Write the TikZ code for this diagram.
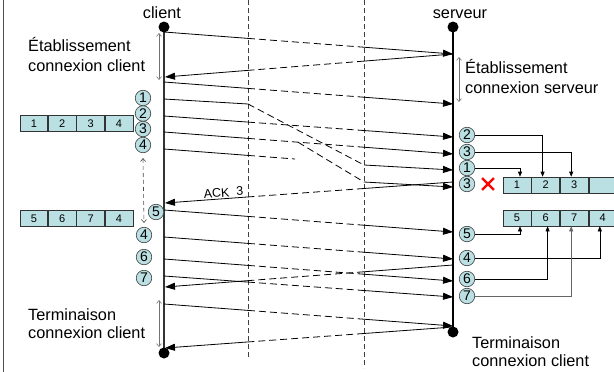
\documentclass[tikz,border=0pt]{standalone}
\usepackage{fontspec}
\setmainfont{Liberation Sans}
\usetikzlibrary{arrows.meta,shapes.misc}
\definecolor{cellfill}{RGB}{187,224,227}
\newcommand\msg[4]{%
  \draw[msgline] (#1) -- (intersection of #1--#2 and #3);
  \draw[dsh] (intersection of #1--#2 and #3) -- (intersection of #1--#2 and #4);
  \draw[arr] (intersection of #1--#2 and #4) -- (#2);
}
\begin{document}
\begin{tikzpicture}[x=1pt,y=-1pt,
  lbl/.style={font=\fontsize{16.3}{20}\selectfont, inner sep=0pt},
  msgline/.style={line width=0.8pt},
  arr/.style={msgline,-{Triangle[length=10pt,width=7pt]}},
  dsh/.style={msgline,dash pattern=on 7pt off 4pt},
  num/.style={circle,draw=black!75,fill=cellfill,line width=0.6pt,minimum size=15.5pt,inner sep=0pt,font=\fontsize{14}{14}\selectfont},
  cell/.style={rectangle,draw=black!80,fill=cellfill,line width=0.6pt,minimum width=28pt,minimum height=16.5pt,inner sep=0pt,font=\fontsize{11}{11}\selectfont},
  dot/.style={circle,fill=black,minimum size=11pt,inner sep=0pt},
  phase/.style={draw=black!55,line width=0.6pt,{Straight Barb[length=3pt,width=5pt]}-{Straight Barb[length=3pt,width=5pt]}},
  tmo/.style={draw=black!70,line width=0.6pt,dash pattern=on 4pt off 3pt,{Straight Barb[length=3pt,width=5pt]}-{Straight Barb[length=3pt,width=5pt]}},
  sep/.style={draw=black!75,line width=1pt,dash pattern=on 5pt off 3pt},
  bufarr/.style={draw=black,line width=0.6pt,-{Triangle[length=5pt,width=4pt]}}
]
\useasboundingbox (0,0) rectangle (614,372);
\draw[black!70,line width=0.8pt] (3,0) -- (3,372);

% vertical separators
\coordinate (la) at (248,0); \coordinate (lb) at (248,372);
\coordinate (ma) at (364,0); \coordinate (mb) at (364,372);
\draw[sep] (248,0) -- (248,358);
\draw[sep] (364,0) -- (364,368);

% life lines
\coordinate (ctop) at (164,27);
\coordinate (cbot) at (164,353);
\coordinate (stop) at (453,27);
\coordinate (sbot) at (453,332);
\draw[black!80,line width=1.3pt] (ctop) -- (cbot);
\draw[black,line width=1.1pt] (stop) -- (sbot);
\node[dot] (cd1) at (ctop) {};
\node[dot] (cd2) at (cbot) {};
\node[dot] (sd1) at (stop) {};
\node[dot] (sd2) at (sbot) {};

\node[lbl,anchor=base] (client) at (162,18.5) {client};
\node[lbl,anchor=base] (serveur) at (460,18.5) {serveur};

% messages
\coordinate (m1a) at (164,32);  \coordinate (m1b) at (453,54);
\coordinate (m2a) at (453,54);  \coordinate (m2b) at (165,77);
\coordinate (m3a) at (164,82);  \coordinate (m3b) at (453,104);
\msg{m1a}{m1b}{la--lb}{ma--mb}
\msg{m2a}{m2b}{ma--mb}{la--lb}
\msg{m3a}{m3b}{la--lb}{ma--mb}

% segment 1 (delayed)
\coordinate (p1a) at (164,99); \coordinate (p1k) at (248,104);
\coordinate (p1l) at (364,165); \coordinate (p1b) at (453,170);
\draw[msgline] (p1a) -- (p1k);
\draw[dsh] (p1k) -- (p1l);
\draw[arr] (p1l) -- (p1b);

\coordinate (p2a) at (164,116); \coordinate (p2b) at (453,137);
\coordinate (p3a) at (164,132); \coordinate (p3b) at (453,154);
\msg{p2a}{p2b}{la--lb}{ma--mb}
\msg{p3a}{p3b}{la--lb}{ma--mb}

% duplicate of 3
\coordinate (d3a) at (298,142.2); \coordinate (d3k) at (364,182); \coordinate (d3b) at (453,187);
\draw[dsh] (d3a) -- (d3k);
\draw[arr] (d3k) -- (d3b);

% lost segment 4
\coordinate (p4a) at (164,149); \coordinate (p4x) at (295,159);
\draw[msgline] (p4a) -- (intersection of p4a--p4x and la--lb);
\draw[dsh] (intersection of p4a--p4x and la--lb) -- (p4x);

% ACK 3
\coordinate (ka) at (453,182); \coordinate (kb) at (165,203);
\msg{ka}{kb}{ma--mb}{la--lb}
\path (intersection of ka--kb and la--lb) -- (kb)
  node[sloped,above,pos=0.29,inner sep=1.5pt,font=\fontsize{12.5}{12.5}\selectfont] (acklbl) {ACK\ \ 3};

\coordinate (p5a) at (164,210); \coordinate (p5b) at (453,232);
\coordinate (q4a) at (164,237); \coordinate (q4b) at (453,259);
\coordinate (k2a) at (453,265); \coordinate (k2b) at (165,287);
\coordinate (p6a) at (164,259); \coordinate (p6b) at (453,281);
\coordinate (p7a) at (164,276); \coordinate (p7b) at (453,297);
\coordinate (f1a) at (164,304); \coordinate (f1b) at (453,326);
\coordinate (f2a) at (453,327); \coordinate (f2b) at (165,348);
\msg{p5a}{p5b}{la--lb}{ma--mb}
\msg{q4a}{q4b}{la--lb}{ma--mb}
\msg{k2a}{k2b}{ma--mb}{la--lb}
\msg{p6a}{p6b}{la--lb}{ma--mb}
\msg{p7a}{p7b}{la--lb}{ma--mb}
\msg{f1a}{f1b}{la--lb}{ma--mb}
\msg{f2a}{f2b}{ma--mb}{la--lb}

% phase arrows and texts
\coordinate (ph1a) at (159,33); \coordinate (ph1b) at (159,80);
\coordinate (ph2a) at (459,57); \coordinate (ph2b) at (459,102);
\coordinate (ph3a) at (159,300); \coordinate (ph3b) at (159,347);
\draw[phase] (ph1a) -- (ph1b);
\draw[phase] (ph2a) -- (ph2b);
\draw[phase] (ph3a) -- (ph3b);
\node[lbl,anchor=base west] (te1) at (28,51) {Établissement};
\node[lbl,anchor=base west] (te2) at (28,71) {connexion client};
\node[lbl,anchor=base west] (se1) at (465,74) {Établissement};
\node[lbl,anchor=base west] (se2) at (465,93) {connexion serveur};
\node[lbl,anchor=base west] (tt1) at (28,320) {Terminaison};
\node[lbl,anchor=base west] (tt2) at (28,338.5) {connexion client};
\node[lbl,anchor=base west] (st1) at (472,348) {Terminaison};
\node[lbl,anchor=base west] (st2) at (472,366.5) {connexion client};

% client numbered circles
\node[num] (cn1) at (143,98) {1};
\node[num] (cn2) at (143,113.5) {2};
\node[num] (cn3) at (143,129) {3};
\node[num] (cn4) at (143,145) {4};
\node[num] (cn5) at (156,212) {5};
\node[num] (cn4b) at (144,235) {4};
\node[num] (cn6) at (144,257) {6};
\node[num] (cn7) at (144,278) {7};
\draw[tmo] ([yshift=-5pt]cn4.south) -- ([yshift=4pt]cn4b.north);

% client buffers
\node[cell,minimum width=27.75pt] (ka1) at (33.9,123.5) {1};
\node[cell,minimum width=27.75pt,anchor=west] (ka2) at (ka1.east) {2};
\node[cell,minimum width=27.75pt,anchor=west] (ka3) at (ka2.east) {3};
\node[cell,minimum width=27.75pt,anchor=west] (ka4) at (ka3.east) {4};
\node[cell,minimum width=27.75pt] (kc1) at (33.9,218.5) {5};
\node[cell,minimum width=27.75pt,anchor=west] (kc2) at (kc1.east) {6};
\node[cell,minimum width=27.75pt,anchor=west] (kc3) at (kc2.east) {7};
\node[cell,minimum width=27.75pt,anchor=west] (kc4) at (kc3.east) {4};

% server numbered circles
\node[num] (ns2) at (467,135) {2};
\node[num] (ns3) at (467,152) {3};
\node[num] (ns1) at (467,168) {1};
\node[num] (ns3d) at (467,184) {3};
\node[cross out,draw=red,line width=2.3pt,minimum size=9.5pt,inner sep=0pt] (xx) at (488,184) {};
\node[num] (ns5) at (467,234) {5};
\node[num] (ns4) at (467,258) {4};
\node[num] (ns6) at (467,279) {6};
\node[num] (ns7) at (467,296) {7};

% server buffers
\node[cell,minimum height=16pt] (sb1) at (517,185) {1};
\node[cell,minimum height=16pt,anchor=west] (sb2) at (sb1.east) {2};
\node[cell,minimum height=16pt,anchor=west] (sb3) at (sb2.east) {3};
\node[cell,minimum height=16pt,anchor=west] (sb4) at (sb3.east) {};
\node[cell,minimum height=16pt] (sc1) at (517,218) {5};
\node[cell,minimum height=16pt,anchor=west] (sc2) at (sc1.east) {6};
\node[cell,minimum height=16pt,anchor=west] (sc3) at (sc2.east) {7};
\node[cell,minimum height=16pt,anchor=west] (sc4) at (sc3.east) {4};

\draw[bufarr] (ns2.east) -| ([xshift=-3pt]sb2.north);
\draw[bufarr] (ns3.east) -| ([xshift=-3pt]sb3.north);
\draw[bufarr] (ns1.east) -| ([xshift=3pt]sb1.north);
\draw[bufarr] (ns5.east) -| ([xshift=3pt]sc1.south);
\draw[bufarr] (ns4.east) -| ([xshift=-3pt]sc4.south);
\draw[bufarr] (ns6.east) -| ([xshift=2pt]sc2.south);
\draw[bufarr,draw=black!60] (ns7.east) -| ([xshift=-3pt]sc3.south);
\end{tikzpicture}
\end{document}
